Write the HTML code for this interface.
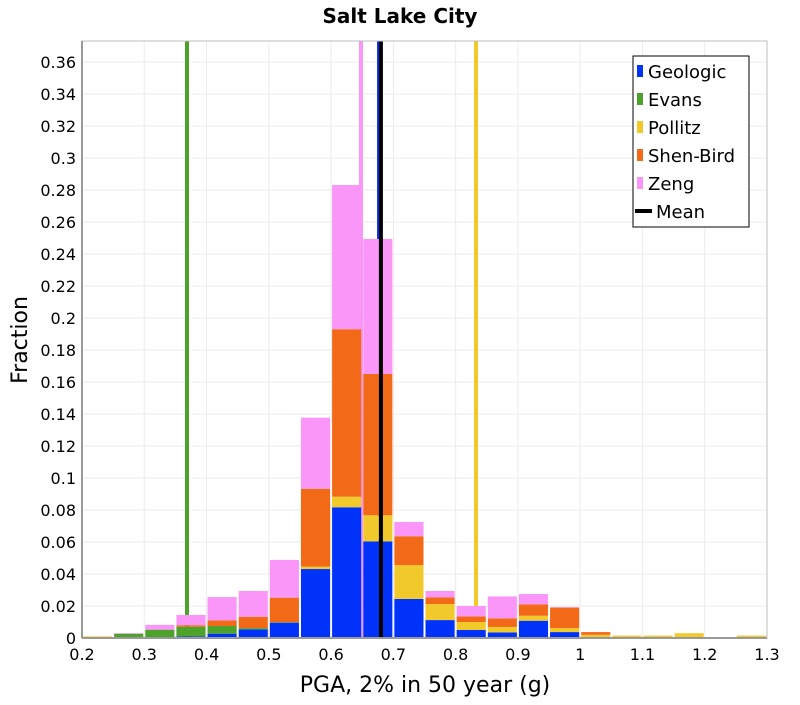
<!DOCTYPE html>
<html><head><meta charset="utf-8"><style>
body{margin:0;background:#fff;}
svg text{font-family:"DejaVu Sans","Liberation Sans",sans-serif;}
</style></head><body>
<svg id="chart" width="800" height="700" xmlns="http://www.w3.org/2000/svg">
<rect width="800" height="700" fill="#fff"/>
<text x="400" y="23" text-anchor="middle" font-size="20" font-weight="bold">Salt Lake City</text>
<g id="grid"></g>
<g id="lines"></g>
<g id="bars"></g>
<g id="mean"></g>
<g id="axes"></g>
<text x="425" y="692" text-anchor="middle" font-size="22">PGA, 2% in 50 year (g)</text>
<text transform="translate(27,340) rotate(-90)" text-anchor="middle" font-size="22">Fraction</text>
<g id="legend">
<rect x="633" y="56" width="116" height="171" fill="#fff" stroke="#000" stroke-width="1"/>
</g>
</svg>
<script>
const binStarts=[0.2,0.25,0.3,0.35,0.4,0.45,0.5,0.55,0.6,0.65,0.7,0.75,0.8,0.85,0.9,0.95,1.0,1.05,1.1,1.15,1.2,1.25];
const geologic=[0,0,0,0.001,0.0027,0.0054,0.0096,0.0431,0.0817,0.0604,0.0244,0.0112,0.005,0.0035,0.0108,0.0037,0,0,0,0,0,0];
const evans=[0.0005,0.0027,0.0052,0.006,0.0048,0.0008,0.0003,0,0,0,0,0,0,0,0,0,0,0,0,0,0,0];
const pollitz=[0.0005,0,0,0,0,0,0,0.0015,0.0066,0.0163,0.0212,0.01,0.005,0.0034,0.0031,0.0025,0.002,0.0015,0.0015,0.003,0.0005,0.0015];
const shenBird=[0,0,0,0.001,0.0035,0.0071,0.0153,0.0487,0.1047,0.0883,0.018,0.0042,0.0035,0.0054,0.0071,0.0128,0.0017,0,0,0,0,0];
const zeng=[0,0.0003,0.003,0.0064,0.0146,0.0161,0.0236,0.0444,0.0901,0.0844,0.0089,0.004,0.0065,0.0137,0.0065,0.0003,0,0,0,0,0,0];
const binWidth=0.05;
const modelLineValues=[0.3686,0.8327,0.648,0.677];
const modelLineNames=["evans-line","pollitz-line","zeng-line","geologic-line"];
const meanValue=0.680;
const xTicks=[0.2,0.3,0.4,0.5,0.6,0.7,0.8,0.9,1,1.1,1.2,1.3];
const xTickLabels=["0.2","0.3","0.4","0.5","0.6","0.7","0.8","0.9","1","1.1","1.2","1.3"];
const yTicks=[0,0.02,0.04,0.06,0.08,0.1,0.12,0.14,0.16,0.18,0.2,0.22,0.24,0.26,0.28,0.3,0.32,0.34,0.36];
const yTickLabels=["0","0.02","0.04","0.06","0.08","0.1","0.12","0.14","0.16","0.18","0.2","0.22","0.24","0.26","0.28","0.3","0.32","0.34","0.36"];
const seriesNames=["Geologic","Evans","Pollitz","Shen-Bird","Zeng"];

const NS="http://www.w3.org/2000/svg";
const X0=82,X1=767,Y0=638,YT=41;
const xMin=0.2,xMax=1.3,yMin=0,yMax=(Y0-YT)/1600;
const colors=["#0032fa","#4ca22a","#f2c92a","#f26a18","#fa96f8"];
const lineColors=["#4ca22a","#f2c92a","#fa96f8","#0032fa"];
function xs(v){return X0+(v-xMin)/(xMax-xMin)*(X1-X0);}
function ys(v){return Y0-(v-yMin)/(yMax-yMin)*(Y0-YT);}
function mk(tag,attrs,parent){const e=document.createElementNS(NS,tag);for(const k in attrs)e.setAttribute(k,attrs[k]);parent.appendChild(e);return e;}

const grid=document.getElementById('grid');
mk('rect',{x:X0,y:YT,width:X1-X0,height:Y0-YT,fill:'#fff'},grid);
xTicks.forEach(t=>{const l=mk('line',{x1:xs(t),x2:xs(t),y1:YT,y2:Y0,stroke:'#ebebeb','stroke-width':1},grid);

});
yTicks.forEach(t=>{const l=mk('line',{x1:X0,x2:X1,y1:ys(t),y2:ys(t),stroke:'#ebebeb','stroke-width':1},grid);

});

const lines=document.getElementById('lines');
modelLineValues.forEach((v,i)=>{const l=mk('line',{x1:xs(v),x2:xs(v),y1:YT,y2:Y0,stroke:lineColors[i],'stroke-width':4},lines);

});

const bars=document.getElementById('bars');
const series=[geologic,evans,pollitz,shenBird,zeng];
binStarts.forEach((b,i)=>{let cum=0;
 series.forEach((s,j)=>{const v=s[i];if(v<=0)return;
  const xa=xs(b)+1,xb=xs(b+binWidth)-1;
  const r=mk('rect',{x:xa,y:ys(cum+v),width:xb-xa,height:ys(cum)-ys(cum+v),fill:colors[j]},bars);
  
  
  cum+=v;});
});

const mean=document.getElementById('mean');
const ml=mk('line',{x1:xs(meanValue),x2:xs(meanValue),y1:YT,y2:Y0,stroke:'#000','stroke-width':4},mean);



const axes=document.getElementById('axes');
mk('rect',{x:X0,y:YT,width:X1-X0,height:Y0-YT,fill:'none',stroke:'#bdbdbd','stroke-width':1},axes);
mk('line',{x1:X0,x2:X1,y1:Y0,y2:Y0,stroke:'#999','stroke-width':2},axes);
mk('line',{x1:X0,x2:X0,y1:YT,y2:Y0,stroke:'#999','stroke-width':2},axes);
xTicks.forEach((t,i)=>{const tx=mk('text',{x:xs(t),y:Y0+22,'text-anchor':'middle','font-size':16},axes);tx.textContent=xTickLabels[i];

});
yTicks.forEach((t,i)=>{const tx=mk('text',{x:X0-6,y:ys(t)+6,'text-anchor':'end','font-size':16},axes);tx.textContent=yTickLabels[i];

});

const legend=document.getElementById('legend');
seriesNames.forEach((n,i)=>{const yy=71+i*28;
 const sw=mk('rect',{x:637,y:yy-6,width:6,height:12,fill:colors[i]},legend);
 
 
 const t=mk('text',{x:648,y:yy+7,'font-size':18},legend);t.textContent=n;
 
 });
const lm=mk('line',{x1:635,x2:652,y1:211,y2:211,stroke:'#000','stroke-width':4},legend);


const lt=mk('text',{x:656,y:218,'font-size':18},legend);lt.textContent='Mean';


</script>
</body></html>
